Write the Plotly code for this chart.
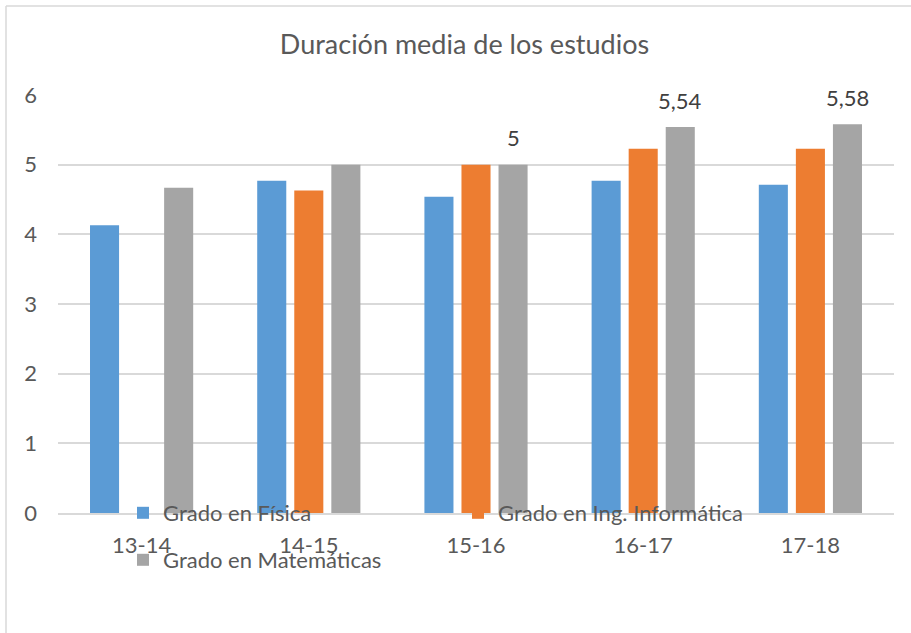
import plotly.graph_objects as go

categories = ["13-14", "14-15", "15-16", "16-17", "17-18"]
fisica = [4.13, 4.77, 4.54, 4.77, 4.71]
informatica = [None, 4.63, 5.0, 5.23, 5.23]
matematicas = [4.67, 5.0, 5.0, 5.54, 5.58]
mat_labels = ["", "", "5", "5,54", "5,58"]
y_ticks = [0, 1, 2, 3, 4, 5, 6]

W, H = 911, 633
ML, MR, MT, MB = 58, 17, 95, 120
PW, PH = W - ML - MR, H - MT - MB

font_family = "Lato, Open Sans, sans-serif"
txt = "#595959"

fig = go.Figure()
fig.add_bar(x=categories, y=fisica, name="Grado en Física", marker_color="#5B9BD5",
            marker_line_width=0, legend="legend")
fig.add_bar(x=categories, y=informatica, name="Grado en Ing. Informática", marker_color="#ED7D31",
            marker_line_width=0, legend="legend")
fig.add_bar(x=categories, y=matematicas, name="Grado en Matemáticas", marker_color="#A5A5A5",
            marker_line_width=0, legend="legend2")

for cat, val, lab in zip(categories, matematicas, mat_labels):
    if lab:
        fig.add_annotation(x=cat, y=val, text=lab, showarrow=False, xshift=37, yshift=27,
                           yanchor="middle", font=dict(size=22, color="#404040", family=font_family))

fig.update_layout(
    width=W, height=H,
    margin=dict(l=ML, r=MR, t=MT, b=MB),
    paper_bgcolor="white", plot_bgcolor="white",
    barmode="group", bargap=0.335, bargroupgap=0.216,
    font=dict(family=font_family, size=22, color=txt),
    title=dict(text="Duración media de los estudios", x=464.5 / W, xref="container", xanchor="center",
               y=1 - 45 / H, yref="container", yanchor="middle",
               font=dict(size=27, color=txt, family=font_family)),
    xaxis=dict(showgrid=False, showline=True, linecolor="#D9D9D9", linewidth=1.5,
               ticks="", ticklabelstandoff=12, tickfont=dict(size=22, color=txt)),
    yaxis=dict(range=[0, 6], tickvals=y_ticks, showgrid=True, gridcolor="#D9D9D9", gridwidth=1.5,
               zeroline=False, showline=False, ticks="", ticklabelstandoff=20,
               tickfont=dict(size=22, color=txt)),
    legend=dict(orientation="h", x=(123 - ML) / PW, xanchor="left", y=0, yanchor="middle",
                bgcolor="rgba(0,0,0,0)", entrywidth=290, entrywidthmode="pixels",
                font=dict(size=22, color=txt)),
    legend2=dict(orientation="h", x=(123 - ML) / PW, xanchor="left", y=-47 / PH, yanchor="middle",
                 bgcolor="rgba(0,0,0,0)", font=dict(size=22, color=txt)),
    showlegend=True,
)

# chart-area border (top and left edges visible in the reference)
fig.add_shape(type="line", xref="paper", yref="paper",
              x0=-(ML - 6) / PW, x1=1 + MR / PW, y0=1 + (MT - 6) / PH, y1=1 + (MT - 6) / PH,
              line=dict(color="#D9D9D9", width=1.5), layer="below")
fig.add_shape(type="line", xref="paper", yref="paper",
              x0=-(ML - 6) / PW, x1=-(ML - 6) / PW, y0=1 + (MT - 6) / PH, y1=-MB / PH,
              line=dict(color="#D9D9D9", width=1.5), layer="below")

fig.write_html("out.html", config={"displayModeBar": False},
               post_script="document.body.style.margin='0';")
